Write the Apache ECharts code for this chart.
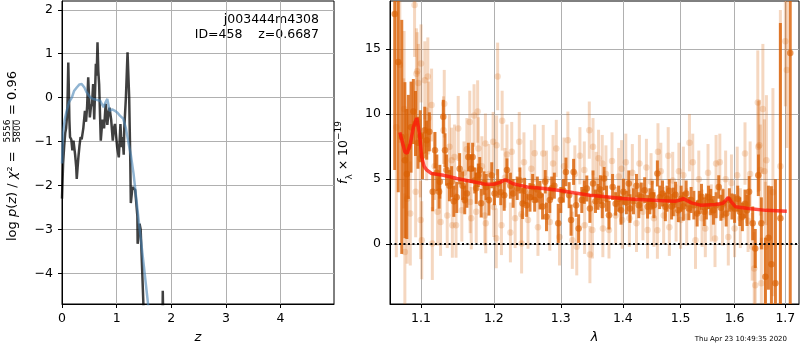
<!DOCTYPE html>
<html>
<head>
<meta charset="utf-8">
<script src="https://cdn.jsdelivr.net/npm/echarts@6.0.0/dist/echarts.min.js"></script>
<style>
html,body{margin:0;padding:0;background:#fff;}
#main{width:800px;height:350px;}
</style>
</head>
<body>
<div id="main"></div>
<script>
// ---- p(z) panel: [z, log p(z)] ----
var pzPoints = [[0,-2.3],[0.01,-1.9],[0.02,-1.5],[0.04,-1.1],[0.06,-0.8],[0.075,-0.7],[0.086,-0.52],[0.1,-0.2],[0.115,0.8],[0.125,0.2],
  [0.135,-0.5],[0.147,-0.9],[0.17,-0.95],[0.19,-1.2],[0.21,-0.98],[0.24,-1.3],[0.26,-1.58],[0.27,-1.85],[0.285,-1.6],[0.30,-1.36],
  [0.32,-1.1],[0.34,-0.9],[0.36,-0.95],[0.39,-0.7],[0.42,-0.3],[0.44,-0.55],[0.46,-0.2],[0.48,0.46],[0.51,-0.45],[0.53,-0.2],[0.55,-0.15],
  [0.57,0.31],[0.59,-0.5],[0.62,0.77],[0.635,0.5],[0.65,1.26],[0.665,0.6],[0.68,0.3],[0.71,-0.98],[0.74,-0.5],[0.77,-0.7],
  [0.80,-0.14],[0.83,-0.62],[0.85,-0.35],[0.87,-0.23],[0.90,-0.5],[0.93,-0.98],[0.95,-0.7],[0.97,-0.6],[1.01,-1.13],[1.04,-1.36],[1.07,-0.6],[1.09,-1.13],
  [1.11,-0.9],[1.13,-1.3],[1.14,-0.7],[1.17,0.0],[1.20,1.03],[1.23,0.0],[1.245,-1.05],[1.25,-1.43],[1.26,-2.4],[1.29,-2.04],[1.34,-2.1],
  [1.38,-2.7],[1.385,-3.33],[1.42,-2.87],[1.44,-3.0],[1.47,-4.0],[1.49,-4.7],[1.50,-5.2],[1.84,-5.2],[1.845,-4.4],[1.855,-5.2]];
var pzFit = [[0,-1.5],[0.02,-0.8],[0.05,-0.5],[0.086,-0.3],[0.13,-0.1],[0.18,0.0],[0.22,0.15],[0.27,0.23],[0.32,0.3],[0.36,0.31],
  [0.41,0.23],[0.45,0.12],[0.48,0.08],[0.52,0.0],[0.57,-0.03],[0.63,-0.05],[0.70,-0.07],[0.76,-0.22],[0.80,-0.1],[0.83,-0.03],
  [0.87,-0.3],[0.92,-0.27],[0.97,-0.3],[1.02,-0.35],[1.06,-0.41],[1.12,-0.48],[1.17,-0.7],[1.21,-0.98],[1.26,-1.3],[1.31,-1.73],
  [1.4,-2.75],[1.5,-3.85],[1.58,-4.75],[1.62,-5.2]];

// ---- spectrum panel: [wavelength (um), flux, error] ----
var darkPoints = [[1.066,17.7,12],[1.0705,14.0,10],[1.075,8.25,9],[1.079,6.46,6],[1.0815,5.4,5],[1.0835,7.48,4],[1.087,9.0,3.5],[1.090,10.2,2.5],
  [1.0928,9.28,2.5],[1.096,7.8,2.0],[1.099,8.3,2.0],[1.102,6.8,1.8],[1.105,8.77,1.8],[1.1075,8.0,1.5],[1.111,8.64,1.5],[1.1155,4.03,1.5],
  [1.1185,7.23,1.4],[1.121,5.5,1.4],[1.124,4.03,1.3],[1.125,4.8,1.3],[1.1297,9.8,1.3],[1.132,7.23,1.3],[1.134,5.7,1.2],[1.138,4.5,1.2],
  [1.141,4.8,1.2],[1.144,3.3,1.2],[1.148,3.6,1.2],[1.152,5.8,1.2],[1.156,4.5,1.1],[1.159,3.4,1.1],[1.162,3.9,1.1],[1.164,6.7,1.1],
  [1.168,5.8,1.1],[1.170,6.7,1.1],[1.173,4.9,1.0],[1.175,4.3,1.2],[1.178,5.3,0.9],[1.180,5.7,1.0],[1.182,3.15,1.1],[1.186,4.7,0.9],
  [1.189,4.4,1.0],[1.193,3.4,1.2],[1.197,5.3,1.0],[1.201,3.9,0.9],[1.2055,4.67,1.1],[1.210,4.0,1.0],[1.215,3.77,1.2],[1.219,5.7,0.9],
  [1.224,4.5,1.0],[1.228,3.9,1.1],[1.234,4.3,0.9],[1.238,4.9,1.0],[1.242,3.13,1.2],[1.245,4.1,1.0],[1.248,3.0,0.9],[1.253,3.6,1.1],
  [1.257,4.4,1.0],[1.260,3.4,0.9],[1.264,4.2,1.0],[1.268,3.77,1.1],[1.272,2.9,1.0],[1.276,4.8,0.9],[1.278,2.1,1.1],[1.283,3.4,1.0],
  [1.286,4.3,0.9],[1.290,4.5,1.0],[1.296,1.6,1.5],[1.300,3.4,1.0],[1.304,4.1,0.9],[1.308,5.56,1.1],[1.313,3.77,1.0],[1.316,1.85,1.2],
  [1.320,5.56,1.0],[1.324,3.0,0.9],[1.328,1.2,1.1],[1.333,3.4,1.0],[1.337,4.0,0.9],[1.341,4.28,1.0],[1.346,2.74,1.1],[1.351,4.67,1.0],
  [1.355,3.3,0.9],[1.359,3.64,1.0],[1.363,4.2,1.1],[1.366,3.0,1.0],[1.369,5.05,0.9],[1.373,3.5,1.0],[1.377,2.23,1.1],[1.383,4.4,1.0],
  [1.388,3.1,0.9],[1.393,3.5,1.0],[1.397,2.6,1.1],[1.401,4.03,1.0],[1.406,3.2,0.9],[1.410,4.67,1.0],[1.412,2.74,1.1],[1.418,3.3,1.0],
  [1.423,4.5,0.9],[1.427,3.0,1.0],[1.431,3.64,1.1],[1.437,4.15,1.0],[1.442,2.87,0.9],[1.446,3.3,1.0],[1.450,3.77,1.1],[1.453,3.0,1.0],
  [1.459,5.44,1.0],[1.463,3.6,0.9],[1.468,3.9,1.0],[1.473,2.87,1.1],[1.476,3.5,1.0],[1.480,4.1,0.9],[1.484,2.9,1.0],[1.487,3.25,1.1],
  [1.491,3.8,1.0],[1.496,2.6,0.9],[1.501,3.5,1.0],[1.505,2.9,1.1],[1.510,3.9,1.0],[1.515,2.74,0.9],[1.519,3.4,1.0],[1.524,3.0,1.1],
  [1.530,2.36,1.0],[1.534,3.2,0.9],[1.538,3.64,1.0],[1.543,2.5,1.1],[1.547,2.9,1.0],[1.551,3.6,0.9],[1.555,3.25,1.0],[1.560,2.6,1.1],
  [1.565,3.0,1.0],[1.570,4.4,0.9],[1.574,2.8,1.0],[1.578,3.13,1.1],[1.584,2.36,1.0],[1.590,3.4,0.9],[1.595,2.9,1.0],[1.600,2.74,1.1],
  [1.606,3.5,1.0],[1.610,2.5,1.1],[1.615,2.1,1.1],[1.620,3.1,1.1],[1.624,2.6,1.2],[1.628,4.03,1.2],[1.635,1.6,1.3],[1.640,-0.33,1.5],
  [1.646,5.3,1.6],[1.652,1.6,2.0],[1.660,-2.5,3],[1.666,0.5,4],[1.672,-1.54,6],[1.680,-3.0,8],[1.690,2.0,15],[1.710,14.7,25]];
var lightPoints = [[1.068,9,10],[1.0725,13.8,6],[1.0775,7.75,5],[1.078,10.4,6],[1.079,-0.6,4.5],[1.082,3.5,5],[1.086,2.36,4],[1.0916,18.4,4],
  [1.093,4.03,3.5],[1.094,13.1,3.5],[1.095,13.3,3],[1.0965,12.4,3],[1.099,6.6,3],[1.0995,1.85,3],[1.100,13.9,3],[1.101,0.3,3],
  [1.105,12.6,3],[1.1075,7.7,2.8],[1.109,12.9,3],[1.110,9.7,2.8],[1.114,10.7,2.8],[1.115,0.05,2.8],[1.118,6.0,2.6],[1.122,2.5,2.6],
  [1.126,1.7,2.6],[1.130,8.77,2.6],[1.131,10.8,2.6],[1.135,2.2,2.5],[1.138,7.5,2.5],[1.141,6.46,2.5],[1.142,1.46,2.5],[1.145,6.7,2.5],
  [1.147,1.46,2.5],[1.150,8.9,2.5],[1.155,2.6,2.4],[1.158,5.5,2.4],[1.162,7.3,2.4],[1.166,9.4,2.4],[1.1665,3.25,2.4],[1.168,2.0,2.4],
  [1.172,9.9,2.4],[1.175,2.5,2.4],[1.177,10.2,2.4],[1.178,7.36,2.4],[1.183,6.0,2.3],[1.187,2.2,2.3],[1.188,7.75,2.3],[1.1885,1.6,2.3],
  [1.193,5.4,2.3],[1.199,7.87,2.3],[1.200,2.85,2.3],[1.2035,0.45,2.3],[1.204,7.6,2.3],[1.2055,12.9,2.6],[1.211,1.46,2.3],[1.212,9.5,2.3],
  [1.216,5.1,2.3],[1.219,6.9,2.3],[1.224,0.9,2.3],[1.226,7.1,2.3],[1.231,2.0,2.3],[1.237,7.87,2.3],[1.240,2.3,2.3],[1.2405,0.05,2.3],
  [1.244,6.3,2.3],[1.250,1.85,2.2],[1.255,5.8,2.2],[1.260,7.0,2.2],[1.265,1.3,2.2],[1.273,6.97,2.2],[1.278,5.0,2.2],[1.283,1.7,2.2],
  [1.288,6.2,2.2],[1.293,7.36,2.2],[1.298,0.56,2.2],[1.305,6.0,2.2],[1.311,8.0,2.2],[1.318,0.3,2.2],[1.322,5.4,2.2],[1.325,-0.2,2.2],
  [1.330,6.8,2.2],[1.337,5.7,2.2],[1.3375,1.45,2.2],[1.345,8.77,2.2],[1.346,-0.8,2.2],[1.350,1.1,2.2],[1.351,7.5,2.2],[1.356,4.9,2.2],
  [1.360,6.6,2.2],[1.366,6.2,2.2],[1.367,1.2,2.2],[1.372,5.4,2.2],[1.377,1.1,2.2],[1.382,6.4,2.2],[1.388,2.2,2.2],[1.393,5.2,2.2],
  [1.398,5.8,2.2],[1.399,1.85,2.2],[1.405,6.3,2.2],[1.411,2.0,2.2],[1.416,5.5,2.2],[1.423,1.6,2.2],[1.428,6.2,2.2],[1.434,2.5,2.2],
  [1.440,5.9,2.2],[1.442,1.1,2.2],[1.448,4.8,2.2],[1.453,2.0,2.2],[1.459,1.08,2.2],[1.460,7.1,2.2],[1.465,5.6,2.2],[1.470,2.2,2.2],
  [1.478,6.8,2.2],[1.480,1.3,2.2],[1.486,4.9,2.2],[1.492,2.4,2.2],[1.497,5.6,2.2],[1.500,1.85,2.2],[1.505,5.3,2.2],[1.511,2.1,2.2],
  [1.516,7.8,2.2],[1.522,6.3,2.2],[1.527,0.3,2.2],[1.533,5.0,2.2],[1.539,2.0,2.2],[1.545,1.2,2.2],[1.550,5.5,2.2],[1.556,2.4,2.2],
  [1.563,0.44,2.2],[1.565,6.2,2.2],[1.572,6.3,2.2],[1.577,2.1,2.2],[1.583,5.0,2.2],[1.588,0.56,2.2],[1.594,4.7,2.2],[1.600,1.2,2.2],
  [1.605,5.3,2.2],[1.611,2.0,2.3],[1.620,6.97,2.4],[1.626,1.8,2.4],[1.630,5.4,2.5],[1.634,-0.2,2.6],[1.638,-1.87,2.8],[1.640,-3.15,3],
  [1.645,10.9,4],[1.646,7.5,3.5],[1.648,7.6,3.5],[1.650,5.7,3.5],[1.652,-3.0,3.5],[1.655,10.4,5],[1.658,5.6,4],[1.660,-0.2,5],
  [1.662,6.46,5],[1.675,4.0,8],[1.690,6.0,12],[1.700,15.6,5],[1.703,13.4,6]];
var modelPoints = [[1.0725,8.6],[1.076,7.8],[1.079,7.1],[1.082,7.0],[1.086,7.7],[1.090,9.0],[1.0945,9.7],[1.098,8.5],[1.101,6.7],[1.104,6.0],
  [1.1075,5.7],[1.114,5.44],[1.13,5.3],[1.148,5.05],[1.171,4.8],[1.189,4.6],[1.2,4.6],[1.209,4.75],[1.216,4.95],[1.221,4.85],
  [1.228,4.65],[1.237,4.54],[1.249,4.4],[1.27,4.3],[1.296,4.15],[1.32,3.95],[1.346,3.77],[1.372,3.64],[1.398,3.51],[1.426,3.44],
  [1.463,3.35],[1.49,3.3],[1.498,3.38],[1.505,3.5],[1.512,3.35],[1.52,3.18],[1.536,3.0],[1.565,3.05],[1.578,3.15],[1.584,3.4],
  [1.588,3.6],[1.593,3.3],[1.602,2.87],[1.627,2.74],[1.661,2.6],[1.703,2.54]];

var zTicks = [0, 1, 2, 3, 4];
var logpTicks = [-4, -3, -2, -1, 0, 1, 2];
var waveTicks = [1.1, 1.2, 1.3, 1.4, 1.5, 1.6, 1.7];
var fluxTicks = [0, 5, 10, 15];

var FONT = 'DejaVu Sans';
var DARK = 'rgba(217,95,2,0.8)';
var LIGHT = 'rgba(217,95,2,0.25)';

function minus(v){ return String(v).replace('-', '\u2212'); }

function axisX(grid, type, min, max, ticks, fmt, name){
    return {
        gridIndex: grid, type: type, min: min, max: max,
        name: name, nameLocation: 'middle', nameGap: 27,
        nameTextStyle: {fontFamily: FONT, fontSize: 13, fontStyle: 'italic', color: '#000'},
        axisLine: {show: true, onZero: false, lineStyle: {color: '#000', width: 1}},
        axisTick: {show: true, length: 4, customValues: ticks, lineStyle: {color: '#000'}},
        axisLabel: {customValues: ticks, formatter: fmt, margin: 8, color: '#000', fontFamily: FONT, fontSize: 12.5},
        splitLine: {show: true, lineStyle: {color: '#b0b0b0', width: 1}}
    };
}
function axisY(grid, min, max, ticks){
    return {
        gridIndex: grid, type: 'value', min: min, max: max,
        axisLine: {show: true, onZero: false, lineStyle: {color: '#000', width: 1}},
        axisTick: {show: true, length: 4, customValues: ticks, lineStyle: {color: '#000'}},
        axisLabel: {customValues: ticks, formatter: minus, margin: 9, color: '#000', fontFamily: FONT, fontSize: 12.5},
        splitLine: {show: true, lineStyle: {color: '#b0b0b0', width: 1}}
    };
}

function errBar(params, api){
    var x = api.value(0), y = api.value(1), e = api.value(2);
    var lo = api.coord([x, y - e]);
    var hi = api.coord([x, y + e]);
    return {
        type: 'line',
        shape: {x1: lo[0], y1: lo[1], x2: hi[0], y2: hi[1]},
        style: {stroke: api.visual('color'), lineWidth: 3}
    };
}

var yAxisRight = axisY(1, -4.6, 18.7, fluxTicks);
yAxisRight.name = '{i|f}{s|\u03bb} \u00d7 10{p|\u221219}';
yAxisRight.nameLocation = 'middle';
yAxisRight.nameGap = 35;
yAxisRight.nameRotate = 90;
yAxisRight.nameTextStyle = {
    color: '#000', fontFamily: FONT, fontSize: 12.5, lineHeight: 20,
    rich: {
        i: {fontStyle: 'italic', fontFamily: FONT, fontSize: 12.5, lineHeight: 20},
        s: {fontFamily: FONT, fontSize: 9, verticalAlign: 'bottom'},
        p: {fontFamily: FONT, fontSize: 9, verticalAlign: 'top'}
    }
};

var option = {
    animation: false,
    backgroundColor: '#fff',
    grid: [
        {left: 62, top: 1, width: 272, height: 303, show: true, borderColor: '#000', borderWidth: 1, backgroundColor: 'transparent'},
        {left: 390, top: 1, width: 409, height: 303, show: true, borderColor: '#000', borderWidth: 1, backgroundColor: 'transparent'}
    ],
    xAxis: [
        axisX(0, 'value', 0, 4.98, zTicks, minus, 'z'),
        axisX(1, 'log', 1.06, 1.728, waveTicks, function(v){ return Number(v).toFixed(1); }, '\u03bb')
    ],
    yAxis: [
        axisY(0, -4.7, 2.2, logpTicks),
        yAxisRight
    ],
    graphic: [
        {type: 'text', x: 319, y: 20, style: {text: 'j003444m4308', fill: '#000', font: '12.5px "DejaVu Sans"', align: 'right', verticalAlign: 'middle'}},
        {type: 'text', x: 319, y: 35, style: {text: 'ID=458    z=0.6687', fill: '#000', font: '12.5px "DejaVu Sans"', align: 'right', verticalAlign: 'middle'}},
        {type: 'text', x: 787, y: 339, style: {text: 'Thu Apr 23 10:49:35 2020', fill: '#000', font: '7px "DejaVu Sans"', align: 'right', verticalAlign: 'middle'}},
        {
            type: 'group', x: 13, y: 241, rotation: Math.PI / 2,
            children: [
                {type: 'text', x: 0, y: 0, style: {
                    text: 'log {i|p}({i|z}) / {i|\u03c7}\u00b2 =', fill: '#000', fontFamily: FONT, fontSize: 13,
                    align: 'left', verticalAlign: 'middle',
                    rich: {i: {fontStyle: 'italic', fontFamily: FONT, fontSize: 13}}
                }},
                {type: 'text', x: 110, y: -5, style: {text: '5556', fill: '#000', fontFamily: FONT, fontSize: 9, align: 'center', verticalAlign: 'middle'}},
                {type: 'text', x: 110, y: 5, style: {text: '5800', fill: '#000', fontFamily: FONT, fontSize: 9, align: 'center', verticalAlign: 'middle'}},
                {type: 'line', shape: {x1: 99, y1: 0, x2: 121, y2: 0}, style: {stroke: '#000', lineWidth: 0.7}},
                {type: 'text', x: 126, y: 0, style: {text: '= 0.96', fill: '#000', fontFamily: FONT, fontSize: 13, align: 'left', verticalAlign: 'middle'}}
            ]
        }
    ],
    series: [
        {
            type: 'line', xAxisIndex: 0, yAxisIndex: 0, data: pzPoints, showSymbol: false, clip: true,
            lineStyle: {color: 'rgba(0,0,0,0.75)', width: 2.5}
        },
        {
            type: 'line', xAxisIndex: 0, yAxisIndex: 0, data: pzFit, showSymbol: false, clip: true,
            lineStyle: {color: 'rgba(70,130,180,0.6)', width: 2.5}
        },
        {
            type: 'custom', xAxisIndex: 1, yAxisIndex: 1, data: lightPoints, renderItem: errBar, clip: true,
            itemStyle: {color: LIGHT}, encode: {x: 0, y: 1}
        },
        {
            type: 'scatter', xAxisIndex: 1, yAxisIndex: 1, data: lightPoints, symbolSize: 6.5, clip: true,
            itemStyle: {color: LIGHT}
        },
        {
            type: 'custom', xAxisIndex: 1, yAxisIndex: 1, data: darkPoints, renderItem: errBar, clip: true,
            itemStyle: {color: DARK}, encode: {x: 0, y: 1}
        },
        {
            type: 'scatter', xAxisIndex: 1, yAxisIndex: 1, data: darkPoints, symbolSize: 6.5, clip: true,
            itemStyle: {color: DARK}
        },
        {
            type: 'line', xAxisIndex: 1, yAxisIndex: 1, data: modelPoints, showSymbol: false, clip: true,
            lineStyle: {color: 'rgba(255,20,10,0.75)', width: 3.5},
            markLine: {
                silent: true, symbol: ['none', 'none'], label: {show: false},
                lineStyle: {color: '#000', type: [2, 2.5], width: 2},
                data: [{yAxis: 0}]
            }
        }
    ]
};

var chart = echarts.init(document.getElementById('main'));
chart.setOption(option);
</script>
</body>
</html>
